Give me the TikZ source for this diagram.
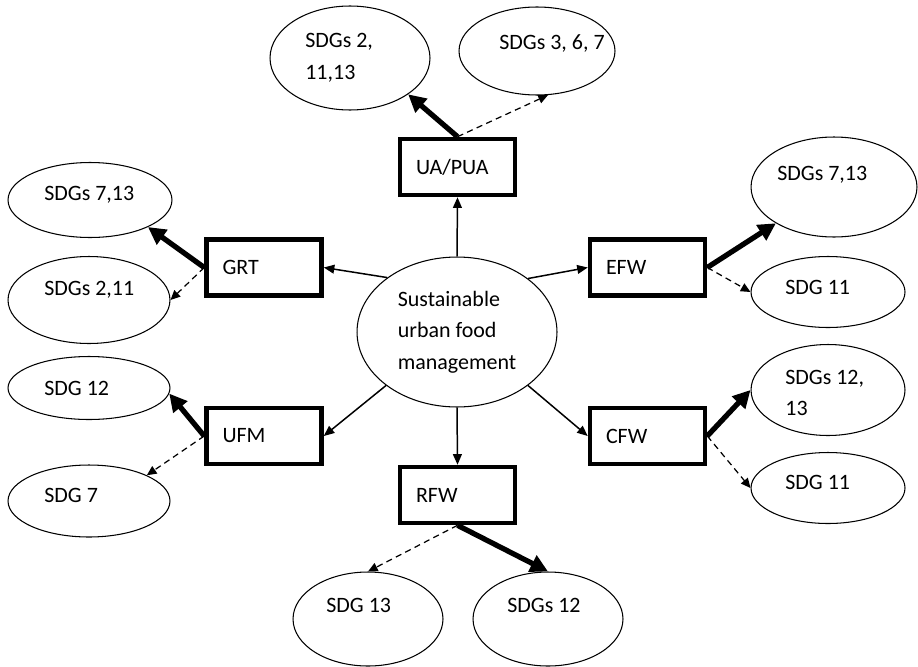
\documentclass[tikz,border=0pt]{standalone}
\usepackage{fontspec}
\setmainfont{Carlito}
\usepackage{tikz}
\usetikzlibrary{arrows.meta,shapes,positioning}

\begin{document}
\begin{tikzpicture}
 [x=0.02cm, y=-0.02cm,
 every node/.style={font=\fontsize{12.5}{18}\selectfont},
 sdg/.style={
  ellipse,
  draw=black,
  line width=0.6pt,
  inner sep=0pt},
 hub/.style={
  ellipse,
  draw=black,
  line width=0.6pt,
  minimum width=4cm,
  minimum height=3cm,
  align=left},
 area/.style={
  rectangle,
  draw=black,
  line width=2.6pt, % border
  minimum width=2.3cm,
  minimum height=1.12cm,
  text width=1.66cm,
  inner xsep=0.32cm,
  align=left},
 txt/.style={anchor=west, align=left, inner sep=0pt},
 spoke/.style={-{Triangle[length=6pt,width=5pt]}, line width=0.85pt},
 strong/.style={-{Triangle[length=10pt,width=10pt]}, line width=3pt},
 weak/.style={-{Triangle[length=5.5pt,width=5pt]}, line width=0.7pt, dash pattern=on 3.5pt off 2.5pt}]
\useasboundingbox (0,0) rectangle (918,666);
% centre and the six areas
\node (hubnode) [hub] at (457,332) {Sustainable\\urban food\\management};
\node (uapua) [area] at (457.5,167) {UA/PUA};
\node (grt) [area] at (264,267.5) {GRT};
\node (ufm) [area] at (264,436) {UFM};
\node (efw) [area] at (647.5,267.5) {EFW};
\node (cfw) [area] at (647.5,436) {CFW};
\node (rfw) [area] at (457.5,495) {RFW};
% goal ellipses
\node (top1) [sdg, minimum width=3.2cm, minimum height=2.08cm] at (350,58) {};
\node (top2) [sdg, minimum width=3.12cm, minimum height=1.76cm] at (537,51) {};
\node (left1) [sdg, minimum width=3.28cm, minimum height=1.5cm] at (90,200) {};
\node (left2) [sdg, minimum width=3.24cm, minimum height=1.74cm] at (89,300) {};
\node (left3) [sdg, minimum width=3.24cm, minimum height=1.26cm] at (89,388) {};
\node (left4) [sdg, minimum width=3.24cm, minimum height=1.44cm] at (89,501) {};
\node (right1) [sdg, minimum width=3.32cm, minimum height=2cm] at (834,187) {};
\node (right2) [sdg, minimum width=3.08cm, minimum height=1.42cm] at (828,292) {};
\node (right3) [sdg, minimum width=3.08cm, minimum height=1.82cm] at (828,390) {};
\node (right4) [sdg, minimum width=3.08cm, minimum height=1.42cm] at (828,488) {};
\node (bot1) [sdg, minimum width=3cm, minimum height=1.88cm] at (368,619) {};
\node (bot2) [sdg, minimum width=3cm, minimum height=1.88cm] at (548,619) {};
% goal texts
\node (top1txt) [txt] at (305,58) {SDGs 2,\\11,13};
\node (top2txt) [txt] at (499,43) {SDGs 3, 6, 7};
\node (left1txt) [txt] at (44,195) {SDGs 7,13};
\node (left2txt) [txt] at (44,290) {SDGs 2,11};
\node (left3txt) [txt] at (44,388) {SDG 12};
\node (left4txt) [txt] at (44,495) {SDG 7};
\node (right1txt) [txt] at (777,175) {SDGs 7,13};
\node (right2txt) [txt] at (785,287) {SDG 11};
\node (right3txt) [txt] at (785,393) {SDGs 12,\\13};
\node (right4txt) [txt] at (785,482) {SDG 11};
\node (bot1txt) [txt] at (326,605) {SDG 13};
\node (bot2txt) [txt] at (507,605) {SDGs 12};
% centre to areas
\path (hubnode.north) edge[spoke] (uapua.south);
\path (hubnode.south) edge[spoke] (rfw.north);
\path (hubnode.142) edge[spoke] (grt.east);
\path (hubnode.217) edge[spoke] (ufm.east);
\path (hubnode.37) edge[spoke] (efw.west);
\path (hubnode.-37) edge[spoke] (cfw.west);
% areas to goals
\path (uapua.north) edge[strong] (top1.-32);
\path (uapua.north) edge[weak] (top2.-76);
\path (grt.west) edge[strong] (left1.-25);
\path (grt.west) edge[weak] (left2.0);
\path (ufm.west) edge[strong] (left3.-4);
\path (ufm.west) edge[weak] (left4.24);
\path (efw.east) edge[strong] (right1.-148);
\path (efw.east) edge[weak] (right2.180);
\path (cfw.east) edge[strong] (right3.180);
\path (cfw.east) edge[weak] (right4.180);
\path (rfw.south) edge[strong] (bot2.90);
\path (rfw.south) edge[weak] (bot1.90);
\end{tikzpicture}
\end{document}
